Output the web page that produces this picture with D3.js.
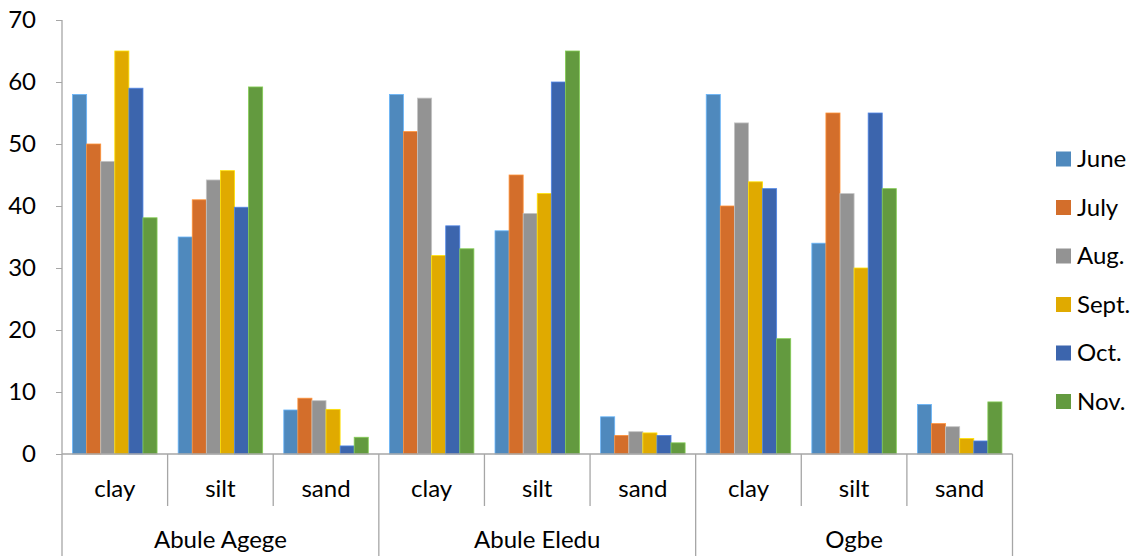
<!DOCTYPE html>
<html>
<head>
<meta charset="utf-8">
<script src="https://cdn.jsdelivr.net/npm/d3@7"></script>
<style>
  body { margin: 0; background: #fff; }
  svg { display: block; font-family: Lato, "Open Sans", sans-serif; }
</style>
</head>
<body>
<svg id="chart" width="1135" height="556"></svg>
<script>
const groups = ["Abule Agege", "Abule Eledu", "Ogbe"];
const soils = ["clay", "silt", "sand"];
const months = ["June", "July", "Aug.", "Sept.", "Oct.", "Nov."];
const colors = ["#4F89BD", "#D36E2B", "#939393", "#E0AA00", "#3C65AD", "#639A3F"];
const yTicks = [0, 10, 20, 30, 40, 50, 60, 70];

// values per month, in order: Agege clay, silt, sand, Eledu clay, silt, sand, Ogbe clay, silt, sand
const june  = [58.0, 35.0, 7.1, 58.0, 36.0, 6.0, 58.0, 34.0, 8.0];
const july  = [50.0, 41.0, 9.0, 52.0, 45.0, 3.0, 40.0, 55.0, 4.9];
const aug   = [47.2, 44.2, 8.6, 57.4, 38.8, 3.6, 53.4, 42.0, 4.4];
const sept  = [65.0, 45.7, 7.2, 32.0, 42.0, 3.4, 43.9, 30.0, 2.5];
const oct   = [59.0, 39.8, 1.3, 36.8, 60.0, 3.0, 42.8, 55.0, 2.1];
const nov   = [38.1, 59.2, 2.7, 33.1, 65.0, 1.8, 18.6, 42.8, 8.4];
const seriesValues = [june, july, aug, sept, oct, nov];

const svg = d3.select("#chart");
const mLeft = 62, mRight = 1012.5, mTop = 20, base = 454;
const axisColor = "#a6a6a6";
const fs = 24;

const categories = [];
groups.forEach(g => soils.forEach(s => categories.push(g + "|" + s)));

const x = d3.scaleBand().domain(categories).range([mLeft, mRight]).padding(0);
const bw = x.bandwidth();
const barW = bw / (months.length + 1.5);
const xs = d3.scaleBand().domain(months).range([barW * 0.75, bw - barW * 0.75]).padding(0);
const y = d3.scaleLinear().domain([0, 70]).range([base, mTop]);

// y axis
const yAxis = d3.axisLeft(y).tickValues(yTicks).tickSize(6).tickPadding(20);
const gy = svg.append("g").attr("transform", `translate(${mLeft},0)`).call(yAxis);
gy.select(".domain").remove();
gy.selectAll(".tick line").attr("stroke", axisColor);
gy.selectAll(".tick text").attr("font-size", fs).attr("fill", "#000")
  .attr("font-family", "Lato, 'Open Sans', sans-serif");
svg.append("line").attr("x1", mLeft).attr("x2", mLeft).attr("y1", mTop).attr("y2", 556)
  .attr("stroke", axisColor).attr("stroke-width", 1.3);

// bars
const rows = [];
seriesValues.forEach((vals, si) => vals.forEach((v, ci) => rows.push({ si, cat: categories[ci], v })));
svg.append("g").selectAll("rect").data(rows).join("rect")
  .attr("x", d => x(d.cat) + xs(months[d.si]))
  .attr("width", xs.bandwidth())
  .attr("y", d => y(d.v))
  .attr("height", d => base - y(d.v))
  .attr("fill", d => colors[d.si])
  .attr("stroke", d => d3.color(colors[d.si]).brighter(0.8))
  .attr("stroke-width", 0.8);

// x axis baseline
svg.append("line").attr("x1", mLeft).attr("x2", mRight).attr("y1", base).attr("y2", base)
  .attr("stroke", axisColor).attr("stroke-width", 1.3);

// separators
categories.forEach((c, i) => {
  if (i === 0) return;
  const full = i % soils.length === 0;
  svg.append("line").attr("x1", x(c)).attr("x2", x(c))
    .attr("y1", base).attr("y2", full ? 556 : 506)
    .attr("stroke", axisColor).attr("stroke-width", 1.3);
});
svg.append("line").attr("x1", mRight).attr("x2", mRight).attr("y1", base).attr("y2", 556)
  .attr("stroke", axisColor).attr("stroke-width", 1.3);

// category labels
svg.append("g").selectAll("text").data(categories).join("text")
  .attr("x", d => x(d) + bw / 2).attr("y", 497)
  .attr("text-anchor", "middle").attr("font-size", fs).attr("fill", "#000")
  .text(d => d.split("|")[1]);

svg.append("g").selectAll("text").data(groups).join("text")
  .attr("x", (g, i) => x(categories[i * 3]) + bw * 1.5).attr("y", 548)
  .attr("text-anchor", "middle").attr("font-size", fs).attr("fill", "#000")
  .text(d => d);

// legend
const lg = svg.append("g");
months.forEach((m, i) => {
  const cy = 159 + i * 48.5;
  lg.append("rect").attr("x", 1056).attr("y", cy - 7.5).attr("width", 15).attr("height", 15)
    .attr("fill", colors[i]);
  lg.append("text").attr("x", 1077).attr("y", cy + 8).attr("font-size", fs).attr("fill", "#000").text(m);
});
</script>
</body>
</html>
